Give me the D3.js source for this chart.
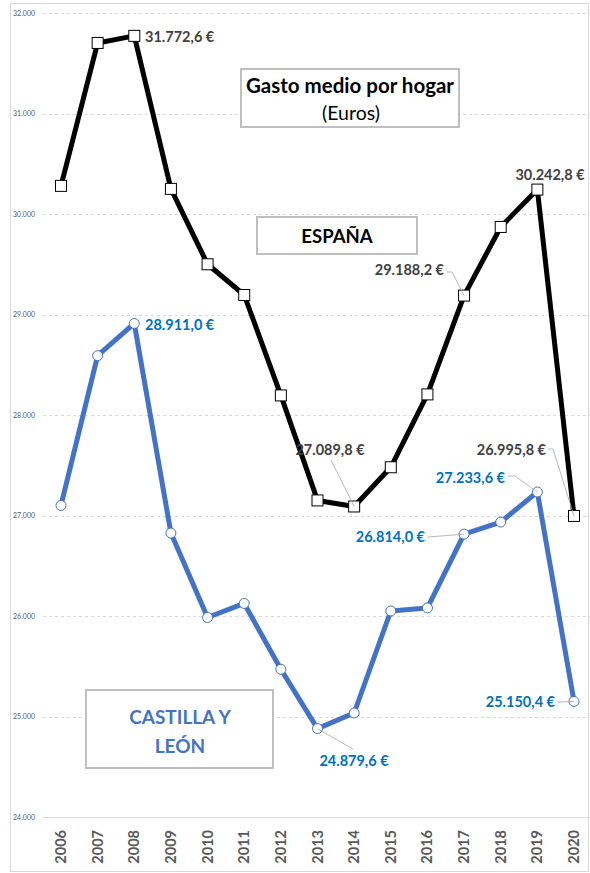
<!doctype html>
<html lang="es">
<head>
  <meta charset="utf-8">
  <title>Gasto medio por hogar</title>
  <style>
    body { margin: 0; background: #fff; }
    svg { display: block; font-family: Lato, "Open Sans", sans-serif; }
    .grid line { stroke: #d9d9d9; stroke-dasharray: 3 3; }
    .ytick { fill: #595959; font-size: 7px; }
    .xtick { fill: #595959; font-size: 14.5px; font-weight: bold; }
    .leader { fill: none; stroke: #a6a6a6; stroke-width: 0.8; }
    .box { fill: #fff; stroke: #bfbfbf; stroke-width: 2; }
  </style>
</head>
<body>
  <div id="chart"></div>

  <script src="https://d3js.org/d3.v7.min.js"></script>
  <script>
    // data
    const years = [2006, 2007, 2008, 2009, 2010, 2011, 2012, 2013, 2014, 2015, 2016, 2017, 2018, 2019, 2020];
    const espana = [30280, 31702, 31772.6, 30250, 29500, 29194, 28195, 27150, 27089.8, 27480, 28205, 29188.2, 29871, 30242.8, 26995.8];
    const castilla = [27100, 28590, 28911.0, 26825, 25985, 26125, 25470, 24879.6, 25035, 26050, 26080, 26814.0, 26935, 27233.6, 25150.4];
    const yTicks = [24000, 25000, 26000, 27000, 28000, 29000, 30000, 31000, 32000];

    const width = 590, height = 873;
    const fmt = d3.formatLocale({ decimal: ',', thousands: '.', grouping: [3], currency: ['', ' €'] });
    const axisFmt = d => fmt.format(',')(d);
    const valFmt = d => fmt.format(',.1f')(d) + ' €';

    const svg = d3.select('#chart').append('svg')
      .attr('width', width)
      .attr('height', height);

    // outer frame
    svg.append('rect')
      .attr('x', 10.5).attr('y', 3.5)
      .attr('width', 578).attr('height', 868)
      .attr('fill', 'none').attr('stroke', '#d9d9d9');

    const x = d3.scalePoint().domain(years).range([61, 574]);
    const y = d3.scaleLinear().domain([24000, 32000]).range([817, 13]);

    // gridlines
    svg.append('g').attr('class', 'grid')
      .selectAll('line')
      .data(yTicks.filter(d => d > 24000))
      .join('line')
      .attr('x1', 43).attr('x2', 590)
      .attr('y1', d => Math.round(y(d)) + 0.5)
      .attr('y2', d => Math.round(y(d)) + 0.5);

    // base axis line
    svg.append('line')
      .attr('x1', 43).attr('x2', 590)
      .attr('y1', y(24000) + 0.5).attr('y2', y(24000) + 0.5)
      .attr('stroke', '#d9d9d9').attr('stroke-width', 1.2);

    svg.append('g')
      .selectAll('text')
      .data(yTicks)
      .join('text')
      .attr('class', 'ytick')
      .attr('x', 35)
      .attr('y', d => y(d) + 2.5)
      .attr('text-anchor', 'end')
      .text(axisFmt);

    svg.append('g')
      .selectAll('text')
      .data(years)
      .join('text')
      .attr('class', 'xtick')
      .attr('transform', d => `translate(${x(d) + 5},830) rotate(-90)`)
      .attr('text-anchor', 'end')
      .text(d => d);

    // boxes with titles
    svg.append('rect').attr('class', 'box')
      .attr('x', 241).attr('y', 69).attr('width', 218).attr('height', 58);
    svg.append('text')
      .attr('x', 350).attr('y', 93)
      .attr('text-anchor', 'middle')
      .attr('font-size', 20.5).attr('font-weight', 'bold').attr('fill', '#000')
      .text('Gasto medio por hogar');
    svg.append('text')
      .attr('x', 351).attr('y', 120)
      .attr('text-anchor', 'middle')
      .attr('font-size', 19.5).attr('fill', '#000')
      .text('(Euros)');

    svg.append('rect').attr('class', 'box')
      .attr('x', 257).attr('y', 217).attr('width', 160).attr('height', 37);
    svg.append('text')
      .attr('x', 337).attr('y', 243)
      .attr('text-anchor', 'middle')
      .attr('font-size', 18.5).attr('font-weight', 'bold').attr('fill', '#000')
      .text('ESPAÑA');

    svg.append('rect').attr('class', 'box')
      .attr('x', 86).attr('y', 690).attr('width', 187).attr('height', 78);
    const cyl = svg.append('text')
      .attr('text-anchor', 'middle')
      .attr('font-size', 19).attr('font-weight', 'bold').attr('fill', '#4472c4');
    cyl.append('tspan').attr('x', 180).attr('y', 724).text('CASTILLA Y');
    cyl.append('tspan').attr('x', 180).attr('y', 753).text('LEÓN');

    // lines
    const line = d3.line().x((d, i) => x(years[i])).y(d => y(d));

    svg.append('path')
      .datum(castilla)
      .attr('d', line)
      .attr('fill', 'none')
      .attr('stroke', '#4472c4')
      .attr('stroke-width', 5)
      .attr('stroke-linejoin', 'round');

    svg.append('path')
      .datum(espana)
      .attr('d', line)
      .attr('fill', 'none')
      .attr('stroke', '#000')
      .attr('stroke-width', 5)
      .attr('stroke-linejoin', 'round');

    svg.append('g')
      .selectAll('circle')
      .data(castilla)
      .join('circle')
      .attr('cx', (d, i) => x(years[i]))
      .attr('cy', d => y(d))
      .attr('r', 5)
      .attr('fill', '#fff')
      .attr('stroke', '#4472c4')
      .attr('stroke-width', 1);

    svg.append('g')
      .selectAll('rect')
      .data(espana)
      .join('rect')
      .attr('x', (d, i) => x(years[i]) - 5.5)
      .attr('y', d => y(d) - 5.5)
      .attr('width', 11)
      .attr('height', 11)
      .attr('fill', '#fff')
      .attr('stroke', '#000')
      .attr('stroke-width', 1);

    // data labels: index into series, text position, text anchor, leader start
    const espLabels = [
      { i: 2, tx: 145, ty: 42, anchor: 'start' },
      { i: 13, tx: 550, ty: 180, anchor: 'middle' },
      { i: 11, tx: 444, ty: 275, anchor: 'end', lead: [[447, 272], [452, 272]] },
      { i: 8, tx: 330, ty: 455, anchor: 'middle', lead: [[331, 460]] },
      { i: 14, tx: 546, ty: 455, anchor: 'end', lead: [[548, 449], [553, 449]] }
    ];
    const cylLabels = [
      { i: 2, tx: 145, ty: 330, anchor: 'start' },
      { i: 13, tx: 505, ty: 483, anchor: 'end', lead: [[508, 476], [515, 476]] },
      { i: 11, tx: 425, ty: 542, anchor: 'end', lead: [[428, 537]] },
      { i: 7, tx: 354, ty: 766, anchor: 'middle', lead: [[353, 749]] },
      { i: 14, tx: 555, ty: 707, anchor: 'end', lead: [[557, 702], [562, 702]] }
    ];

    function drawLabels(list, series, color) {
      list.forEach(l => {
        if (l.lead) {
          const pts = l.lead.concat([[x(years[l.i]), y(series[l.i])]]);
          svg.append('path')
            .attr('class', 'leader')
            .attr('d', d3.line()(pts));
        }
        svg.append('text')
          .attr('x', l.tx).attr('y', l.ty)
          .attr('text-anchor', l.anchor)
          .attr('font-size', 14.5).attr('font-weight', 'bold')
          .attr('fill', color)
          .text(valFmt(series[l.i]));
      });
    }
    drawLabels(espLabels, espana, '#404040');
    drawLabels(cylLabels, castilla, '#0070c0');
  </script>
</body>
</html>
